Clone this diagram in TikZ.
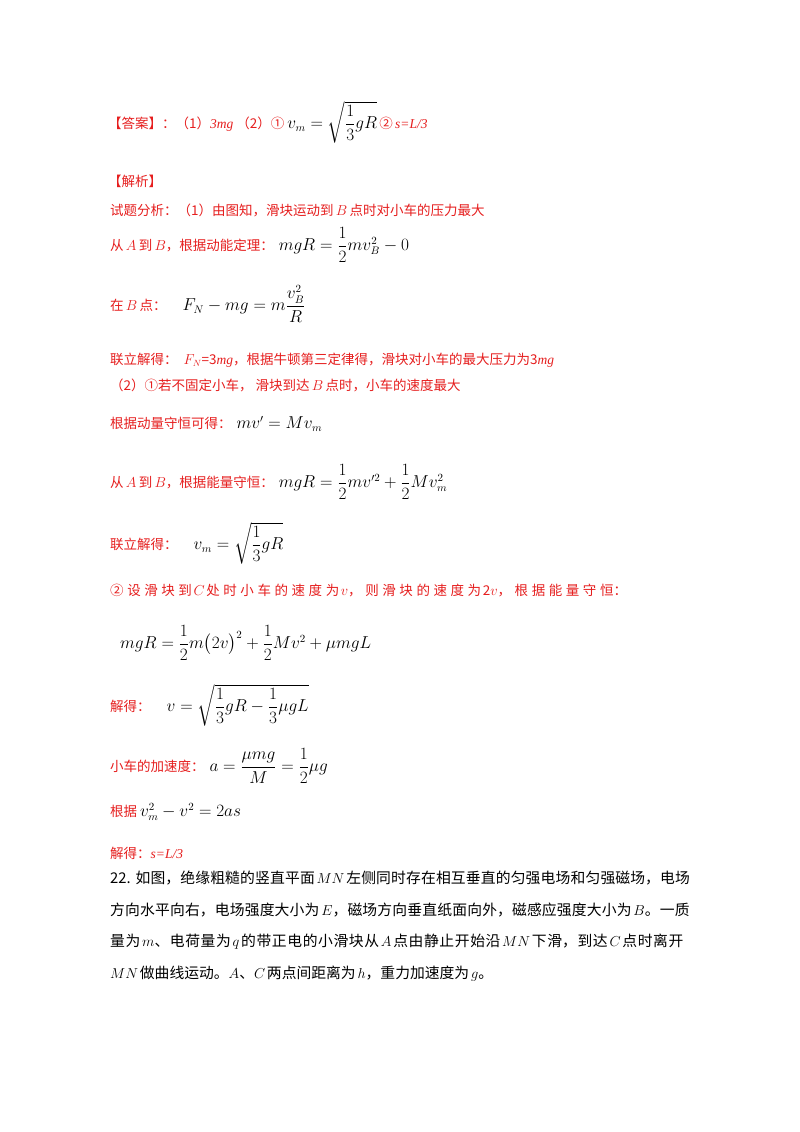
\documentclass[tikz,border=0pt]{standalone}
\usepackage{amsmath}
\usepackage{fontspec}
\setmainfont{Noto Sans CJK SC}
\newfontfamily\lat{Liberation Serif}
\XeTeXlinebreaklocale "zh"
\XeTeXlinebreakskip=0pt plus 2pt minus 0.6pt
\definecolor{ansred}{RGB}{230,30,30}
\newcommand{\eq}[1]{\textcolor{black}{\fontsize{16}{18}\selectfont$#1$}}
\newcommand{\ts}{\nobreak\hspace{0.12em}\nobreak}
\tikzset{
  rt/.style={anchor=west,inner sep=0pt,text=ansred,font=\fontsize{13.5}{16}\selectfont},
  bk/.style={anchor=west,inner sep=0pt,text=black,font=\fontsize{16}{18}\selectfont}
}
\begin{document}
\begin{tikzpicture}[x=1pt,y=1pt]
\useasboundingbox[fill=white] (0,0) rectangle (800,-1132);
\node[rt] (ans) at (108,-122) {【答案】：（1）\textit{\lat 3mg}\ （2）①\ \eq{v_m=\sqrt{\dfrac13gR}}\,②\,\textit{\lat s=L/3}};
\node[rt] (jx) at (108,-181) {【解析】};
\node[rt] (l1) at (110,-210) {试题分析：（1）由图知，滑块运动到\,$B$\,点时对小车的压力最大};
\node[rt] (l2) at (110,-245) {从\,$A$\,到\,$B$，根据动能定理：\eq{\;mgR=\dfrac12mv_B^2-0}};
\node[rt] (l3) at (110,-304) {在\,$B$\,点：\eq{\quad F_N-mg=m\dfrac{v_B^2}{R}}};
\node[rt] (l4) at (110,-360) {联立解得：\ \ $F_N$=3\textit{\lat mg}，根据牛顿第三定律得，滑块对小车的最大压力为3\textit{\lat mg}};
\node[rt] (l5) at (110,-385) {（2）①若不固定小车，\ 滑块到达\,$B$\,点时，小车的速度最大};
\node[rt] (l6) at (110,-424) {根据动量守恒可得：\eq{\;mv'=Mv_m}};
\node[rt] (l7) at (110,-482) {从\,$A$\,到\,$B$，根据能量守恒：\eq{\;mgR=\dfrac12mv'^2+\dfrac12Mv_m^2}};
\node[rt] (l8) at (110,-543) {联立解得：\eq{\quad v_m=\sqrt{\dfrac13gR}}};
\node[rt,text width=565pt] (l9) at (110,-591) {\parfillskip=0pt ②设滑块到\ts$C$\ts 处时小车的速度为\ts$v$，则滑块的速度为\ts 2$v$，根据能量守恒：\par};
\node[bk] (e1) at (120,-643) {$mgR=\dfrac12m\bigl(2v\bigr)^2+\dfrac12Mv^2+\mu mgL$};
\node[rt] (l10) at (110,-705) {解得：\eq{\quad v=\sqrt{\dfrac13gR-\dfrac13\mu gL}}};
\node[rt] (l11) at (110,-766) {小车的加速度：\eq{\;a=\dfrac{\mu mg}{M}=\dfrac12\mu g}};
\node[rt] (l12) at (110,-812) {根据\eq{\,v_m^2-v^2=2as}};
\node[rt] (l13) at (110,-853) {解得：\textit{\lat s=L/3}};
\node[anchor=north west,inner sep=0pt,text width=582pt,font=\fontsize{14.8}{31.5}\selectfont] (q) at (110,-871)
{{\parfillskip=0pt 22.\ 如图，绝缘粗糙的竖直平面\ts$MN$\ts 左侧同时存在相互垂直的匀强电场和匀强磁场，电场\par
方向水平向右，电场强度大小为\ts$E$，磁场方向垂直纸面向外，磁感应强度大小为\ts$B$。一质\par
量为\ts$m$、电荷量为\ts$q$\ts 的带正电的小滑块从\ts$A$\ts 点由静止开始沿\ts$MN$\ts 下滑，到达\ts$C$\ts 点时离开\par}
$MN$\ts 做曲线运动。$A$、$C$\ts 两点间距离为\ts$h$，重力加速度为\ts$g$。};
\end{tikzpicture}
\end{document}
